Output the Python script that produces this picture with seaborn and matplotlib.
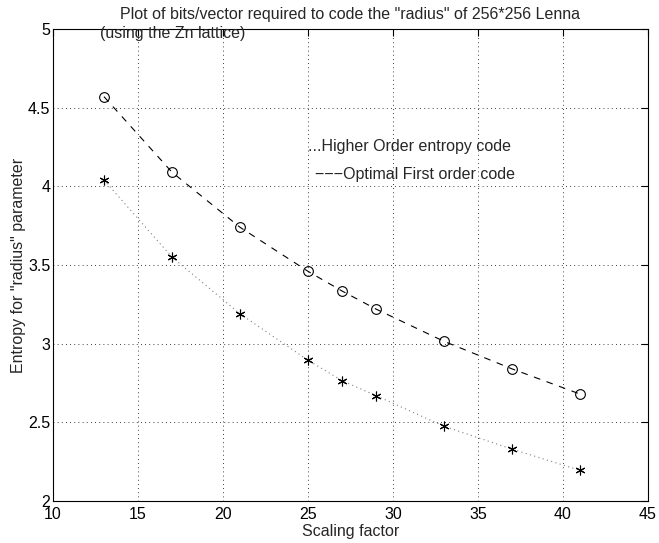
import matplotlib
matplotlib.use("Agg")
import matplotlib.pyplot as plt
import seaborn as sns
import pandas as pd

scaling = [13, 17, 21, 25, 27, 29, 33, 37, 41]
first_order = [4.57, 4.09, 3.74, 3.46, 3.335, 3.22, 3.015, 2.84, 2.68]
higher_order = [4.04, 3.55, 3.19, 2.895, 2.765, 2.67, 2.475, 2.33, 2.195]

sns.set_style("white")
plt.rcParams['font.family'] = ['Liberation Sans', 'DejaVu Sans']
FS = 11.5
plt.rcParams['font.size'] = FS

df = pd.DataFrame({"x": scaling, "first": first_order, "higher": higher_order})

fig = plt.figure(figsize=(6.59, 5.43), dpi=100)
ax = fig.add_axes([0.0804, 0.0773, 0.9029, 0.8693])

sns.lineplot(data=df, x="x", y="first", ax=ax, color="black", linestyle=(0, (6, 6)),
             linewidth=0.8, marker="o", markersize=7, markerfacecolor="none",
             markeredgecolor="black", markeredgewidth=0.8)
sns.lineplot(data=df, x="x", y="higher", ax=ax, color="#808080", linestyle=(0, (1, 3)),
             linewidth=0.8)
ax.plot(df["x"], df["higher"], linestyle="none", marker=(6, 2, 0), markersize=7,
        color="black", markeredgewidth=0.8)

ax.set_xlim(10, 45)
ax.set_ylim(2, 5)
ax.set_xticks(range(10, 46, 5))
ax.set_yticks([2, 2.5, 3, 3.5, 4, 4.5, 5])
ax.set_yticklabels(["2", "2.5", "3", "3.5", "4", "4.5", "5"])
ax.grid(True, color="black", linestyle=(0, (1, 4)), linewidth=0.6)
ax.tick_params(direction="in", length=5, width=0.8, top=True, right=True,
               labelsize=FS, pad=2, colors="black")
ax.tick_params(axis="x", pad=4.5)
for s in ax.spines.values():
    s.set_visible(True)
    s.set_color("black")
    s.set_linewidth(0.8)

ax.set_xlabel("Scaling factor", fontsize=FS, labelpad=1)
ax.set_ylabel('Entropy for "radius" parameter', fontsize=FS, labelpad=1)
ax.set_title('Plot of bits/vector required to code the "radius" of 256*256 Lenna',
             fontsize=FS, pad=7)
ax.text(12.76, 4.943, "(using the Zn lattice)", fontsize=FS, va="baseline", ha="left")
ax.text(25.0, 4.225, "...Higher Order entropy code", fontsize=FS, va="baseline", ha="left")
ax.text(25.4, 4.045, "\u2212\u2212\u2212Optimal First order code", fontsize=FS, va="baseline", ha="left")

fig.savefig("out.png", dpi=100)
